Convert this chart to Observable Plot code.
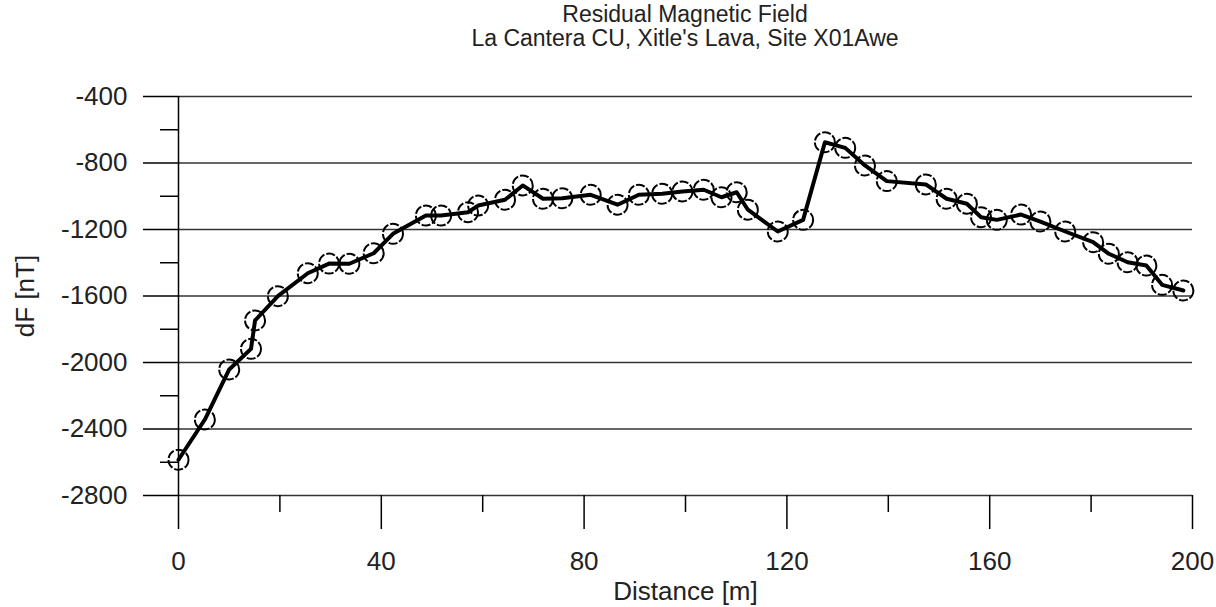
<!DOCTYPE html>
<html>
<head>
<meta charset="utf-8">
<script src="https://cdn.jsdelivr.net/npm/d3@7"></script>
<script src="https://cdn.jsdelivr.net/npm/@observablehq/plot@0.6"></script>
<style>
  html, body { margin: 0; padding: 0; background: #fff; }
  #wrap { width: 1216px; height: 607px; overflow: hidden; font-family: "Liberation Sans", Arial, sans-serif; color: #222; }
  #title { box-sizing: border-box; width: 1216px; height: 52px; padding: 2px 24px 0 178px; text-align: center; font-size: 23px; line-height: 24px; }
</style>
</head>
<body>
<div id="wrap">
  <div id="title"><div>Residual Magnetic Field</div><div>La Cantera CU, Xitle's Lava, Site X01Awe</div></div>
  <div id="chart"></div>
</div>
<script>
const distance = [0,5.2,10,14.3,15.1,19.6,25.5,29.7,33.7,38.5,42.3,48.8,51.8,57.1,59.1,64.4,67.9,71.9,75.7,81.3,86.6,90.8,95.4,99.4,103.6,107.1,110.1,112.3,118.2,123.2,127.5,131.5,135.4,139.7,147.4,151.5,155.5,158.3,161.4,166.2,170.0,174.9,180.4,183.5,187.2,190.9,194.0,198.2];
const dF = [-2585,-2343,-2042,-1918,-1747,-1601,-1463,-1405,-1406,-1343,-1226,-1116,-1116,-1096,-1056,-1021,-935,-1015,-1012,-991,-1051,-991,-985,-971,-961,-1006,-976,-1081,-1212,-1142,-675,-709,-815,-909,-929,-1015,-1045,-1126,-1142,-1110,-1152,-1212,-1276,-1346,-1397,-1417,-1533,-1567];
const xMajor = [0,40,80,120,160,200];
const xMinor = [20,60,100,140,180];
const yMajor = [-400,-800,-1200,-1600,-2000,-2400,-2800];
const yMinor = [-600,-1000,-1400,-1800,-2200,-2600];

const data = distance.map((d, i) => ({distance: d, dF: dF[i]}));
const plain = d => String(d);

const chart = Plot.plot({
  width: 1216,
  height: 555,
  marginTop: 44,
  marginBottom: 112,
  marginLeft: 178,
  marginRight: 24,
  style: {fontFamily: "'Liberation Sans', Arial, sans-serif", fontSize: "26px", color: "#222", background: "white"},
  x: {domain: [0, 200]},
  y: {domain: [-2800, -400]},
  marks: [
    Plot.gridY({ticks: yMajor, stroke: "#333", strokeOpacity: 1, strokeWidth: 1.5}),
    Plot.ruleX([0], {stroke: "black", strokeWidth: 1.5}),
    Plot.axisY({ticks: yMajor, tickSize: 35, tickPadding: 16, tickFormat: plain, fontSize: 26, color: "#222", stroke: "black", strokeWidth: 1.5,
      label: "dF [nT]", labelAnchor: "center", labelArrow: false, labelOffset: 163}),
    Plot.axisY({ticks: yMinor, tickSize: 18, tickFormat: () => "", stroke: "black", strokeWidth: 1.5, label: null}),
    Plot.axisX({ticks: xMajor, tickSize: 34, tickPadding: 22, tickFormat: plain, fontSize: 26, color: "#222", stroke: "black", strokeWidth: 1.5,
      label: "Distance [m]", labelAnchor: "center", labelArrow: false, labelOffset: 104}),
    Plot.axisX({ticks: xMinor, tickSize: 17, tickFormat: () => "", stroke: "black", strokeWidth: 1.5, label: null}),
    Plot.line(data, {x: "distance", y: "dF", stroke: "black", strokeWidth: 4}),
    Plot.dot(data, {x: "distance", y: "dF", r: 10, stroke: "black", strokeWidth: 2, fill: "none", strokeDasharray: "9,2"})
  ]
});
document.getElementById("chart").appendChild(chart);
</script>
</body>
</html>
